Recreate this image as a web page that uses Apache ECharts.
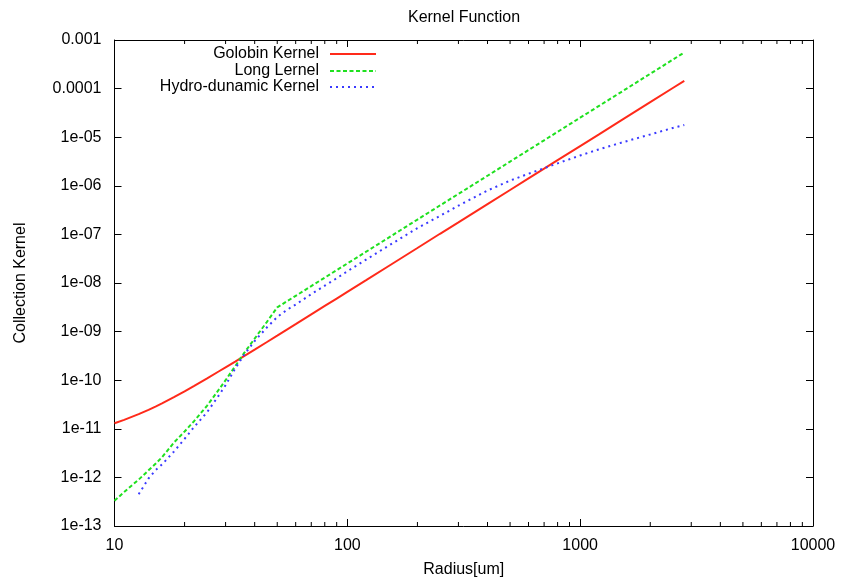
<!DOCTYPE html>
<html>
<head>
<meta charset="utf-8">
<script src="https://cdn.jsdelivr.net/npm/echarts@6/dist/echarts.min.js"></script>
<style>
html,body{margin:0;padding:0;background:#fff;}
#chart{width:841px;height:583px;}
</style>
</head>
<body>
<div id="chart"></div>
<script>
// ---- data ----
const radius = [10, 11, 12.7, 14, 15, 16, 18, 20, 22, 25, 28, 30, 33, 36, 40, 45, 50, 55, 60, 70, 80, 90, 100, 120, 150, 200, 250, 300, 400, 500, 600, 700, 800, 1000, 1200, 1500, 2000, 2500, 2800];
const golovin = [1.3e-11, 1.53e-11, 2.0e-11, 2.46e-11, 2.87e-11, 3.34e-11, 4.48e-11, 5.9e-11, 7.64e-11, 1.09e-10, 1.51e-10, 1.84e-10, 2.42e-10, 3.13e-10, 4.26e-10, 6.04e-10, 8.27e-10, 1.10e-9, 1.42e-9, 2.26e-9, 3.37e-9, 4.79e-9, 6.57e-9, 1.13e-8, 2.21e-8, 5.25e-8, 1.03e-7, 1.77e-7, 4.2e-7, 8.2e-7, 1.42e-6, 2.25e-6, 3.36e-6, 6.56e-6, 1.13e-5, 2.21e-5, 5.25e-5, 1.03e-4, 1.44e-4];
const longK = [3.3e-13, 5.0e-13, 9.0e-13, 1.4e-12, 1.9e-12, 2.6e-12, 5.2e-12, 8.8e-12, 1.45e-11, 3.0e-11, 6.3e-11, 1.0e-10, 1.95e-10, 3.6e-10, 7.2e-10, 1.55e-9, 3.15e-9, 4.19e-9, 5.44e-9, 8.64e-9, 1.29e-8, 1.84e-8, 2.52e-8, 4.35e-8, 8.5e-8, 2.02e-7, 3.94e-7, 6.8e-7, 1.61e-6, 3.15e-6, 5.44e-6, 8.64e-6, 1.29e-5, 2.52e-5, 4.35e-5, 8.5e-5, 2.02e-4, 3.94e-4, 5.53e-4];
const hydro = [null, null, 4.5e-13, 9.5e-13, 1.4e-12, 1.85e-12, 3.4e-12, 6.2e-12, 1.1e-11, 2.2e-11, 4.8e-11, 7.9e-11, 1.75e-10, 3.3e-10, 6.4e-10, 1.2e-9, 2.0e-9, 2.8e-9, 3.6e-9, 5.9e-9, 8.8e-9, 1.25e-8, 1.74e-8, 3.0e-8, 5.8e-8, 1.35e-7, 2.4e-7, 3.9e-7, 8.0e-7, 1.28e-6, 1.77e-6, 2.3e-6, 2.9e-6, 4.2e-6, 5.6e-6, 7.7e-6, 1.14e-5, 1.55e-5, 1.78e-5];
const seriesNames = ['Golobin Kernel', 'Long Lernel', 'Hydro-dunamic Kernel'];
const xTickLabels = ['10', '100', '1000', '10000'];
const yTickLabels = ['1e-13', '1e-12', '1e-11', '1e-10', '1e-09', '1e-08', '1e-07', '1e-06', '1e-05', '0.0001', '0.001'];
const xMinorTicks = [20, 30, 40, 50, 60, 70, 80, 90, 200, 300, 400, 500, 600, 700, 800, 900, 2000, 3000, 4000, 5000, 6000, 7000, 8000, 9000];

const X_MIN = 10, X_MAX = 10000, Y_MIN = 1e-13, Y_MAX = 1e-3;
const FONT = '"Liberation Sans", Arial, Helvetica, sans-serif';
const COLORS = ['#ff2a1a', '#1fe01f', '#3a3aff'];

function pairs(ys) { return radius.map((r, i) => [r, ys[i]]); }

const chart = echarts.init(document.getElementById('chart'), null, {renderer: 'canvas'});

const xLabelFmt = v => { const e = Math.round(Math.log10(v)); return xTickLabels[e - 1] || ''; };
const yLabelFmt = v => { const e = Math.round(Math.log10(v)); return yTickLabels[e + 13] || ''; };

const axisLine = {show: true, lineStyle: {color: '#000', width: 1}};
const tickStyle = {show: true, inside: true, length: 7, lineStyle: {color: '#000', width: 1}};

const legendCommon = {
  orient: 'vertical', align: 'right', right: 464, padding: 0,
  itemWidth: 46, itemHeight: 10,
  itemStyle: {opacity: 0},
  textStyle: {fontFamily: FONT, fontSize: 16, color: '#000', padding: [0, 6, 0, 0]},
  inactiveColor: '#ccc'
};

const option = {
  animation: false,
  backgroundColor: '#fff',
  title: {
    text: 'Kernel Function', left: 459, textAlign: 'center', top: 5,
    textStyle: {fontFamily: FONT, fontSize: 16, fontWeight: 'normal', color: '#000'}
  },
  legend: [
    Object.assign({}, legendCommon, {top: 46, data: [seriesNames[0]]}),
    Object.assign({}, legendCommon, {top: 63, data: [seriesNames[1]]}),
    Object.assign({}, legendCommon, {top: 79, data: [seriesNames[2]]})
  ],
  grid: {left: 114.5, right: 28, top: 40, bottom: 55, containLabel: false},
  xAxis: [
    {
      type: 'log', logBase: 10, min: X_MIN, max: X_MAX, interval: 1,
      name: 'Radius[um]', nameLocation: 'middle', nameGap: 36,
      nameTextStyle: {fontFamily: FONT, fontSize: 16, color: '#000'},
      axisLine: axisLine, axisTick: tickStyle,
      axisLabel: {fontFamily: FONT, fontSize: 16, color: '#000', margin: 12, formatter: xLabelFmt},
      splitLine: {show: false}, minorTick: {show: false}
    },
    {
      type: 'log', logBase: 10, min: X_MIN, max: X_MAX, interval: 1, position: 'top',
      axisLine: axisLine, axisTick: tickStyle, axisLabel: {show: false}, splitLine: {show: false}
    }
  ],
  yAxis: [
    {
      type: 'log', logBase: 10, min: Y_MIN, max: Y_MAX, interval: 1,
      name: 'Collection Kernel', nameLocation: 'middle', nameGap: 86, nameRotate: 90,
      nameTextStyle: {fontFamily: FONT, fontSize: 16, color: '#000'},
      axisLine: axisLine, axisTick: tickStyle,
      axisLabel: {fontFamily: FONT, fontSize: 16, color: '#000', margin: 13, formatter: yLabelFmt},
      splitLine: {show: false}
    },
    {
      type: 'log', logBase: 10, min: Y_MIN, max: Y_MAX, interval: 1, position: 'right',
      axisLine: axisLine, axisTick: tickStyle, axisLabel: {show: false}, splitLine: {show: false}
    }
  ],
  series: [
    {
      name: seriesNames[0], type: 'line', data: pairs(golovin), symbol: 'none', smooth: false,
      color: COLORS[0], lineStyle: {color: COLORS[0], width: 2, type: 'solid'}, z: 3
    },
    {
      name: seriesNames[1], type: 'line', data: pairs(longK), symbol: 'none', smooth: false,
      color: COLORS[1], lineStyle: {color: COLORS[1], width: 2, type: [4, 2.5]}, z: 4
    },
    {
      name: seriesNames[2], type: 'line', data: pairs(hydro), symbol: 'none', smooth: false,
      color: COLORS[2], lineStyle: {color: COLORS[2], width: 2, type: [2, 4]}, z: 5
    },
    {
      type: 'custom', silent: true, clip: false, z: 6,
      data: xMinorTicks.map(v => [v, Y_MIN]),
      renderItem: function (params, api) {
        const v = api.value(0);
        const b = api.coord([v, Y_MIN]);
        const t = api.coord([v, Y_MAX]);
        const st = {stroke: '#000', lineWidth: 1};
        return {
          type: 'group',
          children: [
            {type: 'line', shape: {x1: b[0], y1: b[1], x2: b[0], y2: b[1] - 4}, style: st},
            {type: 'line', shape: {x1: t[0], y1: t[1], x2: t[0], y2: t[1] + 4}, style: st}
          ]
        };
      }
    }
  ]
};
chart.setOption(option);
</script>
</body>
</html>
